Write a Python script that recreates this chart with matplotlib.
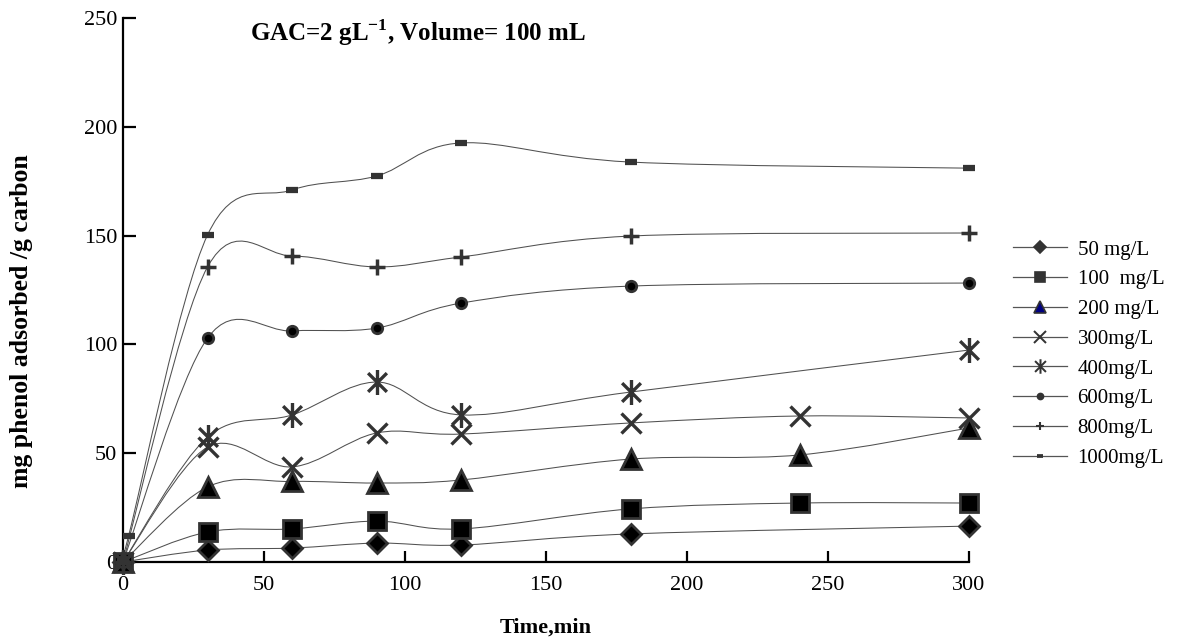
import numpy as np
import matplotlib
matplotlib.use("Agg")
import matplotlib.pyplot as plt
from matplotlib.path import Path
from matplotlib.patches import PathPatch
from matplotlib.lines import Line2D

plt.rcParams['font.family'] = ['Liberation Serif', 'DejaVu Serif']
plt.rcParams['mathtext.fontset'] = 'custom'
plt.rcParams['mathtext.rm'] = 'Liberation Serif'
plt.rcParams['mathtext.bf'] = 'Liberation Serif:bold'

# time (min) and mg phenol adsorbed / g carbon
t_50 = [0, 30, 60, 90, 120, 180, 300]
q_50 = [0, 5.5, 6.4, 8.7, 7.8, 12.9, 16.5]
t_100 = [0, 30, 60, 90, 120, 180, 240, 300]
q_100 = [0, 13.8, 15.2, 18.8, 15.2, 24.4, 27.1, 27.1]
t_200 = [0, 30, 60, 90, 120, 180, 240, 300]
q_200 = [0, 34.5, 37.0, 36.3, 37.7, 47.3, 49.2, 61.6]
t_300 = [0, 30, 60, 90, 120, 180, 240, 300]
q_300 = [0, 52.8, 43.7, 59.3, 58.8, 63.9, 67.1, 66.2]
t_400 = [0, 30, 60, 90, 120, 180, 300]
q_400 = [0, 57.4, 67.6, 82.7, 67.6, 78.1, 97.4]
t_600 = [0, 30, 60, 90, 120, 180, 300]
q_600 = [0, 102.9, 106.2, 107.5, 119.0, 126.8, 128.2]
t_800 = [0, 30, 60, 90, 120, 180, 300]
q_800 = [0, 135.6, 140.6, 135.6, 140.2, 149.8, 151.2]
t_1000 = [0, 2, 30, 60, 90, 120, 180, 300]
q_1000 = [0, 12, 150.3, 171.0, 177.4, 192.6, 183.8, 181.0]

labels = ['50 mg/L', '100  mg/L', '200 mg/L', '300mg/L', '400mg/L',
          '600mg/L', '800mg/L', '1000mg/L']
times = [t_50, t_100, t_200, t_300, t_400, t_600, t_800, t_1000]
values = [q_50, q_100, q_200, q_300, q_400, q_600, q_800, q_1000]

# asterisk marker: vertical bar plus an X
aster = Path([(0, -1), (0, 1), (-0.75, -0.75), (0.75, 0.75), (-0.75, 0.75), (0.75, -0.75)],
             [Path.MOVETO, Path.LINETO] * 3)

styles = [
    dict(marker='D', ms=10.5, mew=2),
    dict(marker='s', ms=13, mew=2),
    dict(marker='^', ms=15, mew=2),
    dict(marker='x', ms=15, mew=2.4),
    dict(marker=aster, ms=18, mew=2.4),
    dict(marker='o', ms=7.5, mew=2),
    dict(marker='+', ms=11, mew=2.5),
    dict(marker='_', ms=8, mew=4.5),
]


def smooth_path(x, y):
    # Excel-like smoothed line (Catmull-Rom as cubic Bezier segments)
    p = np.column_stack([x, y]).astype(float)
    n = len(p)
    verts = [p[0]]
    codes = [Path.MOVETO]
    for i in range(n - 1):
        p0 = p[i - 1] if i > 0 else p[i]
        p3 = p[i + 2] if i + 2 < n else p[i + 1]
        verts += [p[i] + (p[i + 1] - p0) / 6, p[i + 1] - (p3 - p[i]) / 6, p[i + 1]]
        codes += [Path.CURVE4] * 3
    return Path(verts, codes)


fig = plt.figure(figsize=(11.89, 6.39), dpi=100)
ax = fig.add_axes([0.1034, 0.1205, 0.7115, 0.8513])

line_col = '#505050'
mk_edge = '#333333'
handles = []
for t, q, lab, st in zip(times, values, labels, styles):
    ax.add_patch(PathPatch(smooth_path(t, q), fill=False, edgecolor=line_col, lw=0.75))
    ax.plot(t, q, ls='none', marker=st['marker'], ms=st['ms'], mew=st['mew'],
            mec=mk_edge, mfc='black', clip_on=False, zorder=3)
    handles.append(Line2D([], [], color='#555555', lw=0.9, marker=st['marker'],
                          ms=st['ms'] * 0.58, mew=st['mew'] * 0.6, mec=mk_edge,
                          mfc='#333333', label=lab))
handles[2].set_markerfacecolor('#000080')

ax.set_xlim(0, 300)
ax.set_ylim(0, 250)
ax.set_xticks([0, 50, 100, 150, 200, 250, 300])
ax.set_yticks([0, 50, 100, 150, 200, 250])
for s in ['top', 'right']:
    ax.spines[s].set_visible(False)
for s in ['left', 'bottom']:
    ax.spines[s].set_linewidth(1.6)
ax.tick_params(direction='in', length=9, width=1.6, labelsize=16, pad=4)
ax.tick_params(axis='x', length=8, pad=10)

ax.set_xlabel('Time,min', fontsize=16, fontweight='bold', labelpad=16)
ax.set_ylabel('mg phenol adsorbed /g carbon', fontsize=18.5, fontweight='bold')
ax.yaxis.set_label_coords(-0.106, 0.443)
fig.text(250 / 1189, 1 - 33 / 639, r'GAC=2 gL$^{\mathbf{-1}}$, Volume= 100 mL',
         fontsize=18, fontweight='bold', va='center', ha='left')

fig.legend(handles=handles, loc='center left', bbox_to_anchor=(1013 / 1189, 0.446),
           frameon=False, fontsize=15, handlelength=2.6, handletextpad=0.5,
           labelspacing=0.49, borderpad=0, borderaxespad=0)

fig.savefig('out.png', dpi=100)
